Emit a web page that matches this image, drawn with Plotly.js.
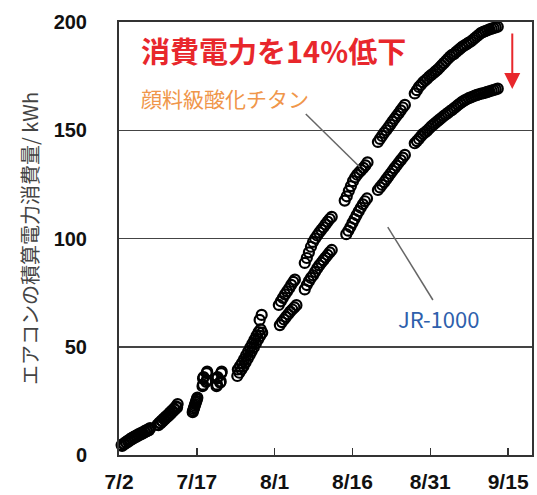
<!DOCTYPE html>
<html>
<head>
<meta charset="utf-8">
<script src="https://cdn.plot.ly/plotly-3.0.1.min.js"></script>
<style>html,body{margin:0;padding:0;background:#fff;}#chart{width:537px;height:495px;}</style>
</head>
<body>
<div id="chart"></div>
<script>
// days since 7/2
const tickVals = [0, 15, 30, 45, 60, 75];
const tickLabels = ['7/2', '7/17', '8/1', '8/16', '8/31', '9/15'];
const yTicks = [0, 50, 100, 150, 200];

// 顔料級酸化チタン (upper series)
const pigmentDays = [
  0.5,0.9,1.3,1.7,2.1,2.5,2.9,3.3,3.7,4.1,4.5,4.9,5.3,5.7,6.0,
  7.4,7.8,8.2,8.6,9.0,9.4,9.8,10.2,10.6,11.0,11.3,
  14.3,14.5,14.7,14.9,15.1,
  16.2,16.3,16.9,17.0,18.9,19.0,19.6,19.8,
  22.9,23.3,23.7,24.1,24.5,24.9,25.3,25.7,26.1,26.5,26.9,27.3,27.1,27.5,
  30.8,31.2,31.6,32.0,32.4,32.8,33.2,33.6,33.9,
  35.8,36.2,36.6,37.0,37.4,37.8,38.2,38.6,39.0,39.4,39.8,40.2,40.6,41.0,
  43.5,43.9,44.3,44.7,45.1,45.5,45.9,46.3,46.7,47.1,47.5,47.9,
  49.9,50.3,50.7,51.1,51.5,51.9,52.3,52.7,53.1,53.5,53.9,54.3,54.7,55.1,
  57.0,57.4,57.8,58.2,58.6,59.0,59.4,59.8,60.2,60.6,61.0,61.4,61.8,62.2,62.6,63.0,63.4,63.8,64.2,64.6,
  65.0,65.4,65.8,66.2,66.6,67.0,67.4,67.8,68.2,68.6,69.0,69.4,69.8,70.2,70.6,71.0,71.4,71.8,72.2,72.6,73.0
];
const pigmentKwh = [
  4.6,5.3,6.0,6.7,7.3,7.9,8.5,9.0,9.5,10.0,10.5,11.0,11.5,12.0,12.4,
  14.0,15.0,15.9,16.8,17.7,18.6,19.6,20.5,21.5,22.5,23.5,
  20.5,22.0,23.5,25.0,26.5,
  32.5,36.0,34.5,38.5,32.5,36.0,34.0,38.5,
  39.5,41.0,42.5,44.2,46.0,47.8,49.6,51.4,53.2,55.0,56.8,58.0,62.4,64.7,
  69.3,71.0,72.6,74.2,75.6,77.0,78.6,80.0,81.0,
  88.7,91.0,93.6,96.2,98.4,100.0,101.4,102.8,104.0,105.2,106.5,107.8,109.0,110.0,
  117.5,119.5,122.0,124.2,126.5,128.2,129.5,130.6,131.6,132.6,133.8,135.2,
  144.6,146.0,147.4,148.8,150.0,151.3,152.6,154.0,155.3,156.6,157.8,159.2,160.5,161.7,
  167.0,168.5,170.0,171.0,172.2,173.0,173.8,174.8,175.6,176.3,177.2,178.0,179.0,180.0,181.0,182.0,183.0,184.0,184.8,185.3,
  186.2,187.0,187.8,188.6,189.2,189.8,190.5,191.0,191.8,192.6,193.4,194.2,195.0,195.4,195.8,196.2,196.6,196.9,197.2,197.5,197.8
];

// JR-1000 (lower series)
const jrDays = [
  0.6,1.0,1.4,1.8,2.2,2.6,3.0,3.4,3.8,4.2,4.6,5.0,5.4,5.8,
  7.6,8.0,8.4,8.8,9.2,9.6,10.0,10.4,10.8,11.2,
  14.2,14.4,14.6,14.8,15.0,
  16.1,16.2,16.8,16.9,18.8,18.9,19.5,19.7,
  22.8,23.2,23.6,24.0,24.4,24.8,25.2,25.6,26.0,26.4,26.8,27.2,27.6,
  31.0,31.4,31.8,32.2,32.6,33.0,33.4,33.8,34.2,
  35.8,36.2,36.6,37.0,37.4,37.8,38.2,38.6,39.0,39.4,39.8,40.2,40.6,41.0,
  43.8,44.2,44.6,45.0,45.4,45.8,46.2,46.6,47.0,47.4,47.8,
  49.9,50.3,50.7,51.1,51.5,51.9,52.3,52.7,53.1,53.5,53.9,54.3,54.7,55.1,
  57.0,57.4,57.8,58.2,58.6,59.0,59.4,59.8,60.2,60.6,61.0,61.4,61.8,62.2,62.6,63.0,63.4,63.8,64.2,64.6,
  65.0,65.4,65.8,66.2,66.6,67.0,67.4,67.8,68.2,68.6,69.0,69.4,69.8,70.2,70.6,71.0,71.4,71.8,72.2,72.6,73.0
];
const jrKwh = [
  4.2,4.9,5.6,6.2,6.8,7.4,8.0,8.5,9.0,9.5,10.0,10.5,11.0,11.5,
  13.8,14.6,15.5,16.4,17.3,18.2,19.1,20.1,21.0,22.0,
  19.8,21.3,22.8,24.3,25.8,
  31.8,35.3,33.8,37.8,31.8,35.3,33.4,37.8,
  36.5,38.0,39.5,41.0,42.8,44.5,46.2,48.0,49.8,51.6,53.4,55.0,56.5,
  60.0,61.4,62.6,63.8,65.0,66.2,67.2,68.2,69.2,
  76.5,78.5,80.3,81.8,83.0,84.6,86.2,87.6,88.8,90.0,91.2,92.4,93.6,94.7,
  102.0,103.6,105.3,107.2,109.0,110.8,112.6,114.2,115.8,117.2,118.5,
  122.4,123.6,124.8,126.0,127.3,128.6,129.9,131.2,132.5,133.7,135.0,136.2,137.4,138.6,
  144.0,145.0,146.0,147.2,148.3,149.0,149.8,150.8,151.8,152.6,153.4,154.2,155.0,155.8,156.6,157.3,158.0,158.8,159.4,160.2,
  161.0,161.8,162.5,163.2,163.8,164.3,164.8,165.2,165.6,166.0,166.3,166.6,166.9,167.1,167.4,167.7,168.0,168.3,168.6,168.9,169.2
];

const markerStyle = {symbol: 'circle-open', size: 10, color: '#000', line: {color: '#000', width: 2.2}};

const traces = [
  {x: pigmentDays, y: pigmentKwh, type: 'scatter', mode: 'markers', name: '顔料級酸化チタン', marker: markerStyle, cliponaxis: false},
  {x: jrDays, y: jrKwh, type: 'scatter', mode: 'markers', name: 'JR-1000', marker: markerStyle, cliponaxis: false}
];

const jp = '"Noto Sans CJK JP", "Noto Sans", sans-serif';

const layout = {
  width: 537, height: 495,
  margin: {l: 119, r: 5, t: 22, b: 40},
  paper_bgcolor: '#fff', plot_bgcolor: '#fff',
  showlegend: false,
  xaxis: {
    range: [0, 79.6], tickmode: 'array', tickvals: tickVals, ticktext: tickLabels,
    ticks: 'inside', ticklen: 7, tickwidth: 1.5, tickcolor: '#333',
    showgrid: false, zeroline: false,
    showline: true, mirror: true, linecolor: '#333', linewidth: 2,
    ticklabelstandoff: 7,
    tickfont: {family: '"Liberation Sans", Arial, sans-serif', size: 21, color: '#111', weight: 'bold'}
  },
  yaxis: {
    range: [0, 200], tickmode: 'array', tickvals: yTicks,
    ticks: '', showgrid: true, gridcolor: '#444', gridwidth: 1.5, zeroline: false,
    showline: true, mirror: true, linecolor: '#333', linewidth: 2,
    ticklabelstandoff: 26,
    tickfont: {family: '"Liberation Sans Narrow", "Liberation Sans", Arial, sans-serif', size: 20, color: '#111', weight: 'bold'},
    title: {text: 'エアコンの積算電力消費量/ kWh', font: {family: jp, size: 20, color: '#444'}, standoff: 10}
  },
  shapes: [
    {type: 'line', xref: 'x', yref: 'y', x0: 36.0, y0: 157.5, x1: 46.4, y1: 133.0, line: {color: '#666', width: 1.5}},
    {type: 'line', xref: 'x', yref: 'y', x0: 51.8, y0: 105.3, x1: 60.5, y1: 71.6, line: {color: '#666', width: 1.5}}
  ],
  annotations: [
    {x: 3.8, y: 187, xref: 'x', yref: 'y', xanchor: 'left', yanchor: 'middle', showarrow: false,
     text: '消費電力を14%低下', font: {family: jp, size: 29, color: '#e8272c', weight: 'bold'}},
    {x: 3.8, y: 165, xref: 'x', yref: 'y', xanchor: 'left', yanchor: 'middle', showarrow: false,
     text: '顔料級酸化チタン', font: {family: jp, size: 21, color: '#f0964a'}},
    {x: 53.4, y: 63.3, xref: 'x', yref: 'y', xanchor: 'left', yanchor: 'middle', showarrow: false,
     text: 'JR-1000', font: {family: jp, size: 22, color: '#2e5fac'}},
    {x: 75.8, y: 169, xref: 'x', yref: 'y', ax: 75.8, ay: 195.4, axref: 'x', ayref: 'y',
     text: '', showarrow: true, arrowhead: 2, arrowsize: 1.6, arrowwidth: 2, arrowcolor: '#e8272c'}
  ]
};

Plotly.newPlot('chart', traces, layout, {displayModeBar: false, staticPlot: true});
</script>
</body>
</html>
